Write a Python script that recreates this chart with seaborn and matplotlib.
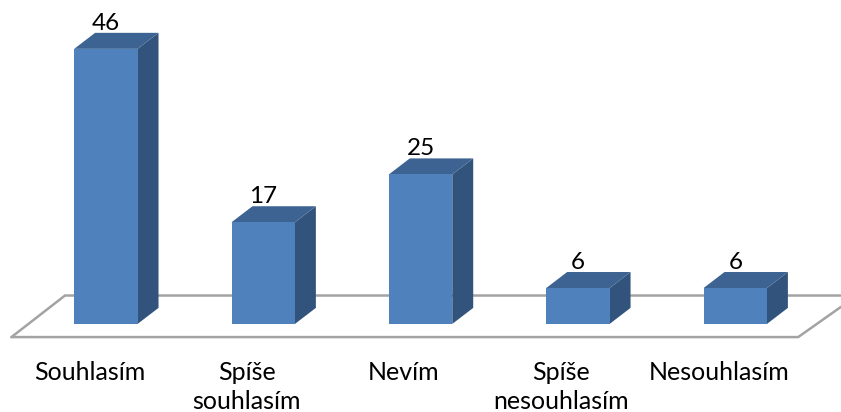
# -*- coding: utf-8 -*-
# 3D look column chart: seaborn draws the front faces, side and top are added from the bars
import pandas as pd
import matplotlib.pyplot as plt
import seaborn as sns

categories = ['Souhlasím', 'Spíše\nsouhlasím', 'Nevím', 'Spíše\nnesouhlasím', 'Nesouhlasím']
values = [46, 17, 25, 6, 6]

df = pd.DataFrame({'Odpoved': categories, 'Pocet': values})

sns.set_theme(style='white')
plt.rcParams['font.family'] = ['Lato', 'DejaVu Sans']

fig = plt.figure(figsize=(8.41, 4.12), dpi=100)
ax = fig.add_axes([0, 0, 1, 1])

front = '#4F81BD'
top = '#3C6391'
side = '#32547C'
floor = '#A3A3A3'

sns.barplot(data=df, x='Odpoved', y='Pocet', color=front, saturation=1, width=0.403,
            order=categories, ax=ax, zorder=3, linewidth=0, edgecolor='none')

ax.set_xlim(-0.673, 4.672)
ax.set_ylim(-14.73, 54.17)
ax.axis('off')

# depth of the fake 3D, in data units
dx = 0.133
dy = 2.68

# chart floor
floor_x = [-0.60, 4.40, 4.672, 4.672, -0.26, -0.60]
floor_y = [-2.2, -2.2, 2.85, 4.75, 4.75, -2.2]
ax.plot(floor_x[:3], floor_y[:3], color=floor, lw=1.8, zorder=1, solid_joinstyle='miter')
ax.plot(floor_x[3:], floor_y[3:], color=floor, lw=1.8, zorder=1, solid_joinstyle='miter')

for i, bar in enumerate(ax.patches):
    x0 = bar.get_x()
    x1 = x0 + bar.get_width()
    h = bar.get_height()
    ax.fill([x1, x1 + dx, x1 + dx, x1], [0, dy, h + dy, h], color=side, lw=0, zorder=2)
    ax.fill([x0, x1, x1 + dx, x0 + dx], [h, h, h + dy, h + dy], color=top, lw=0, zorder=2)
    ax.text(i, h + 4.3, str(values[i]), ha='center', va='center', fontsize=17.5, color='black', zorder=4)

for i, label in enumerate(categories):
    ax.text(i - 0.105, -6.2, label, ha='center', va='top', fontsize=18, color='black',
            linespacing=1.33)

fig.savefig('out.png', dpi=100)
